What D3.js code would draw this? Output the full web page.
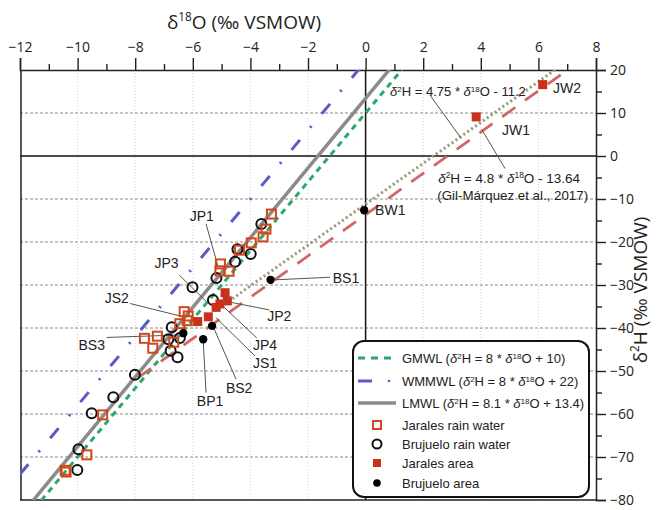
<!DOCTYPE html>
<html><head><meta charset="utf-8">
<script src="https://cdn.jsdelivr.net/npm/d3@7"></script>
<style>
body{margin:0;background:#fff}
svg{display:block}
text{font-family:"Liberation Sans",Arial,sans-serif;fill:#222}
</style>
</head><body>
<svg id="c" width="662" height="510"></svg>
<script>
// ---------- data ----------
const xTickValues = [-12,-10,-8,-6,-4,-2,0,2,4,6,8];
const yTickValues = [20,10,0,-10,-20,-30,-40,-50,-60,-70,-80];

const jaralesRain = [
  [-3.27,-13.5],[-3.46,-17.0],[-3.56,-18.8],[-3.97,-20.2],[-4.38,-21.9],
  [-5.04,-25.1],[-5.06,-26.7],[-4.74,-26.8],[-6.30,-36.2],[-6.16,-37.2],
  [-6.45,-39.0],[-6.19,-38.3],[-7.68,-42.4],[-7.23,-41.9],[-7.39,-44.7],
  [-6.66,-43.3],[-9.13,-60.2],[-9.68,-69.5],[-10.40,-73.5],[-10.43,-73.1]
];
const brujueloRain = [
  [-3.62,-15.8],[-3.99,-22.8],[-4.45,-21.7],[-4.53,-24.6],[-5.18,-28.4],
  [-6.01,-30.5],[-5.30,-33.5],[-6.73,-39.8],[-6.85,-42.6],[-6.45,-42.3],
  [-6.77,-45.3],[-6.53,-46.8],[-8.01,-50.9],[-8.76,-56.1],[-9.51,-59.8],
  [-9.97,-68.2],[-10.01,-73.0]
];
const jaralesArea = [
  ["JP1",-4.88,-31.8],["JP2",-4.80,-33.7],["JP4",-5.06,-34.4],["JS1",-5.19,-35.2],
  ["JP3",-5.46,-37.4],["JS2",-5.83,-38.5],["JW1",3.84,9.1],["JW2",6.15,16.6]
];
const brujueloArea = [
  ["BW1",-0.05,-12.6],["BS1",-3.30,-28.8],["BS2",-5.33,-39.5],["BP1",-5.64,-42.6],["BS3",-6.33,-41.2]
];

// meteoric water lines: slope, intercept, x-extent
const lineNames = ["GMWL","WMMWL","LMWL","Local4.75","Gil2017"];
const lineSlopes = [8, 8, 8.1, 4.75, 4.8];
const lineIntercepts = [10, 22, 13.4, -11.2, -13.64];
const lineXFrom = [-12, -12, -12, -4.9, -7.9];
const lineXTo = [8, 8, 8, 6.6, 7.1];

// ---------- layout ----------
const svg = d3.select("#c");
const L = 20, R = 596, T = 70, B = 500;
const x = d3.scaleLinear().domain([-12, 8]).range([L, R]);
const y = d3.scaleLinear().domain([-80, 20]).range([B, T]);

const styles = {
  GMWL:     {stroke:"#2ea86a", width:3,   dash:"6,5"},
  WMMWL:    {stroke:"#5b5bc6", width:3,   dash:"13,16,2,16"},
  LMWL:     {stroke:"#8b8b8b", width:3.5, dash:null},
  "Local4.75": {stroke:"#a39a7c", width:3, dash:"2.2,2.6"},
  Gil2017:  {stroke:"#d26666", width:2.8, dash:"16,12"}
};
const colSq = "#d2461d", colSqFill = "#c8321a";

svg.append("defs").append("clipPath").attr("id","plot")
  .append("rect").attr("x",L).attr("y",T).attr("width",R-L).attr("height",B-T);

// ---------- grid ----------
const grid = svg.append("g");
grid.selectAll(".vg").data(d3.range(-10, 8, 2).filter(v => v !== 0)).join("line")
  .attr("x1", d => x(d)).attr("x2", d => x(d)).attr("y1", T).attr("y2", B)
  .attr("stroke", "#d6d6d6").attr("stroke-width", 1).attr("stroke-dasharray","1,2");
grid.selectAll(".hg").data(yTickValues.filter(v => v !== 0 && v !== 20 && v !== -80)).join("line")
  .attr("x1", L).attr("x2", R).attr("y1", d => y(d)).attr("y2", d => y(d))
  .attr("stroke", "#8a8a8a").attr("stroke-width", 1).attr("stroke-dasharray","3,2");
grid.append("line").attr("x1",L).attr("x2",R).attr("y1",y(0)).attr("y2",y(0))
  .attr("stroke","#111").attr("stroke-width",1.5);
grid.append("line").attr("x1",x(0)).attr("x2",x(0)).attr("y1",T).attr("y2",B)
  .attr("stroke","#111").attr("stroke-width",1.5);

// frame
svg.append("line").attr("x1",L+1).attr("x2",L+1).attr("y1",T).attr("y2",B).attr("stroke","#222").attr("stroke-width",1.5);
svg.append("line").attr("x1",L).attr("x2",R).attr("y1",B).attr("y2",B).attr("stroke","#222").attr("stroke-width",1.5);

// ---------- axes ----------
svg.append("g").attr("transform",`translate(0,${T})`)
  .call(d3.axisTop(x).tickValues(xTickValues).tickSize(12).tickPadding(6).tickFormat(d3.format("d")));
svg.append("g").attr("transform",`translate(0,${T})`)
  .call(d3.axisTop(x).tickValues(d3.range(-11, 8, 2)).tickSize(6).tickFormat(""))
  .call(g => g.select(".domain").remove());
svg.append("g").attr("transform",`translate(${R},0)`)
  .call(d3.axisRight(y).tickValues(yTickValues).tickSize(10).tickPadding(4).tickFormat(d3.format("d")));
svg.append("g").attr("transform",`translate(${R},0)`)
  .call(d3.axisRight(y).tickValues(d3.range(-75, 20, 10)).tickSize(6).tickFormat(""))
  .call(g => g.select(".domain").remove());
svg.selectAll(".tick line").attr("stroke","#222").attr("stroke-width",1.4);
svg.selectAll(".domain").attr("stroke","#222").attr("stroke-width",1.5);
svg.selectAll(".tick text").attr("font-size",14).attr("fill","#222")
  .style("font-family","'Open Sans',sans-serif");

// rich text helper
function rich(sel, parts, base) {
  parts.forEach(p => {
    if (p.sup) {
      sel.append("tspan").text(p.t).attr("font-size", base*0.62).attr("baseline-shift","super")
        .attr("font-style", "normal");
    } else {
      sel.append("tspan").text(p.t).attr("font-style", p.it ? "italic" : "normal");
    }
  });
}

// axis titles
rich(svg.append("text").attr("x", 244).attr("y", 29).attr("text-anchor","middle").attr("font-size",19)
  .style("font-family","'Open Sans',sans-serif"),
  [{t:"δ"},{t:"18",sup:true},{t:"O (‰ VSMOW)"}], 19);
rich(svg.append("text").attr("transform","translate(647,290) rotate(-90)").attr("text-anchor","middle").attr("font-size",19)
  .style("font-family","'Open Sans',sans-serif"),
  [{t:"δ"},{t:"2",sup:true},{t:"H (‰ VSMOW)"}], 19);

// ---------- lines ----------
const lineG = svg.append("g").attr("clip-path","url(#plot)");
lineNames.forEach((n, i) => {
  const pts = [lineXFrom[i], lineXTo[i]].map(v => [v, lineSlopes[i]*v + lineIntercepts[i]]);
  const s = styles[n];
  lineG.append("path").attr("d", d3.line().x(d => x(d[0])).y(d => y(d[1]))(pts))
    .attr("fill","none").attr("stroke", s.stroke).attr("stroke-width", s.width)
    .attr("stroke-dasharray", s.dash);
});

// ---------- annotations (leader lines + labels) ----------
const annotations = [
  {t:"JP1", tx:-5.69, ty:-14.0, a:"middle", l:[[-5.54,-15.8],[-5.12,-25.8]]},
  {t:"JP3", tx:-6.91, ty:-25.0, a:"middle", l:[[-6.47,-27.7],[-5.52,-33.9]]},
  {t:"JS2", tx:-8.64, ty:-33.1, a:"middle", l:[[-8.18,-34.3],[-6.44,-37.2]]},
  {t:"BS3", tx:-9.51, ty:-44.0, a:"middle", l:[[-8.99,-42.2],[-6.39,-41.6]]},
  {t:"BP1", tx:-5.40, ty:-57.1, a:"middle", l:[[-5.54,-55.0],[-5.64,-42.8]]},
  {t:"BS2", tx:-4.39, ty:-54.0, a:"middle", l:[[-4.50,-51.9],[-5.29,-39.7]]},
  {t:"JS1", tx:-3.49, ty:-48.2, a:"middle", l:[[-3.84,-46.5],[-5.20,-37.6]]},
  {t:"JP4", tx:-3.49, ty:-44.0, a:"middle", l:[[-3.78,-42.3],[-4.94,-35.0]]},
  {t:"JP2", tx:-3.00, ty:-37.2, a:"middle", l:[[-3.34,-35.8],[-4.77,-33.9]]},
  {t:"BS1", tx:-1.14, ty:-28.4, a:"start",  l:[[-3.15,-28.8],[-1.24,-28.2]]},
  {t:"BW1", tx:0.33,  ty:-12.6, a:"start",  l:null},
  {t:"JW1", tx:4.74,  ty:6.0,   a:"start",  l:null},
  {t:"JW2", tx:6.51,  ty:15.8,  a:"start",  l:null}
];
const annG = svg.append("g");
annotations.forEach(d => {
  if (d.l) annG.append("line").attr("x1", x(d.l[0][0])).attr("y1", y(d.l[0][1]))
    .attr("x2", x(d.l[1][0])).attr("y2", y(d.l[1][1])).attr("stroke","#555").attr("stroke-width",1);
  annG.append("text").attr("x", x(d.tx)).attr("y", y(d.ty)).attr("dy","0.35em")
    .attr("text-anchor", d.a).attr("font-size",14).text(d.t);
});

// equation labels
annG.append("line").attr("x1",x(2.23)).attr("y1",y(14.2)).attr("x2",x(3.32)).attr("y2",y(4.1)).attr("stroke","#555").attr("stroke-width",1);
annG.append("line").attr("x1",x(4.84)).attr("y1",y(-2.9)).attr("x2",x(4.03)).attr("y2",y(6.2)).attr("stroke","#555").attr("stroke-width",1);
rich(annG.append("text").attr("x", x(0.85)).attr("y", y(15.0)).attr("dy","0.35em").attr("font-size",13),
  [{t:"δ",it:true},{t:"2",sup:true},{t:"H = 4.75 * "},{t:"δ",it:true},{t:"18",sup:true},{t:"O - 11.2"}], 13);
rich(annG.append("text").attr("x", x(2.52)).attr("y", y(-5.1)).attr("dy","0.35em").attr("font-size",13.5),
  [{t:"δ",it:true},{t:"2",sup:true},{t:"H = 4.8 * "},{t:"δ",it:true},{t:"18",sup:true},{t:"O - 13.64"}], 13.5);
annG.append("text").attr("x", x(2.49)).attr("y", y(-9.1)).attr("dy","0.35em").attr("font-size",13.3)
  .text("(Gil-Márquez et al., 2017)");

// ---------- points ----------
const ptG = svg.append("g");
ptG.selectAll(".bc").data(brujueloRain).join("circle")
  .attr("cx", d => x(d[0])).attr("cy", d => y(d[1])).attr("r", 5)
  .attr("fill","none").attr("stroke","#111").attr("stroke-width",2);
ptG.selectAll(".js").data(jaralesRain).join("rect")
  .attr("x", d => x(d[0]) - 4.5).attr("y", d => y(d[1]) - 4.5).attr("width", 9).attr("height", 9)
  .attr("fill","none").attr("stroke",colSq).attr("stroke-width",2);
ptG.selectAll(".ja").data(jaralesArea).join("rect")
  .attr("x", d => x(d[1]) - 4.5).attr("y", d => y(d[2]) - 4.5).attr("width", 9).attr("height", 9)
  .attr("fill",colSqFill);
ptG.selectAll(".ba").data(brujueloArea).join("circle")
  .attr("cx", d => x(d[1])).attr("cy", d => y(d[2])).attr("r", 4.2).attr("fill","#000");

// ---------- legend ----------
const lg = svg.append("g");
lg.append("rect").attr("x",353).attr("y",341).attr("width",236).attr("height",156).attr("rx",11)
  .attr("fill","#fff").attr("stroke","#111").attr("stroke-width",2);
const legendRows = [
  {key:"GMWL", parts:[{t:"GMWL ("},{t:"δ",it:true},{t:"2",sup:true},{t:"H = 8 * "},{t:"δ",it:true},{t:"18",sup:true},{t:"O + 10)"}]},
  {key:"WMMWL", parts:[{t:"WMMWL ("},{t:"δ",it:true},{t:"2",sup:true},{t:"H = 8 * "},{t:"δ",it:true},{t:"18",sup:true},{t:"O + 22)"}]},
  {key:"LMWL", parts:[{t:"LMWL ("},{t:"δ",it:true},{t:"2",sup:true},{t:"H = 8.1 * "},{t:"δ",it:true},{t:"18",sup:true},{t:"O + 13.4)"}]},
  {key:"sq", parts:[{t:"Jarales rain water"}]},
  {key:"ci", parts:[{t:"Brujuelo rain water"}]},
  {key:"fsq", parts:[{t:"Jarales area"}]},
  {key:"fci", parts:[{t:"Brujuelo area"}]}
];
const rowY = [358, 381, 403, 425, 444, 463, 483];
legendRows.forEach((r, i) => {
  const cy = rowY[i];
  if (styles[r.key]) {
    const s = styles[r.key];
    if (r.key === "WMMWL") {
      lg.append("line").attr("x1",358).attr("x2",372).attr("y1",cy).attr("y2",cy).attr("stroke",s.stroke).attr("stroke-width",3);
      lg.append("circle").attr("cx",389).attr("cy",cy).attr("r",1.3).attr("fill",s.stroke);
    } else {
      lg.append("line").attr("x1",358).attr("x2",396).attr("y1",cy).attr("y2",cy)
        .attr("stroke",s.stroke).attr("stroke-width",s.width).attr("stroke-dasharray", r.key==="GMWL" ? "7,6" : null);
    }
  } else if (r.key === "sq") {
    lg.append("rect").attr("x",373).attr("y",cy-4).attr("width",8).attr("height",8).attr("fill","none").attr("stroke",colSq).attr("stroke-width",2);
  } else if (r.key === "ci") {
    lg.append("circle").attr("cx",377).attr("cy",cy).attr("r",4.5).attr("fill","none").attr("stroke","#111").attr("stroke-width",2);
  } else if (r.key === "fsq") {
    lg.append("rect").attr("x",373).attr("y",cy-4).attr("width",8).attr("height",8).attr("fill",colSqFill);
  } else {
    lg.append("circle").attr("cx",377).attr("cy",cy).attr("r",3.8).attr("fill","#000");
  }
  rich(lg.append("text").attr("x",402).attr("y",cy).attr("dy","0.35em").attr("font-size",13), r.parts, 13);
});
</script>
</body></html>
